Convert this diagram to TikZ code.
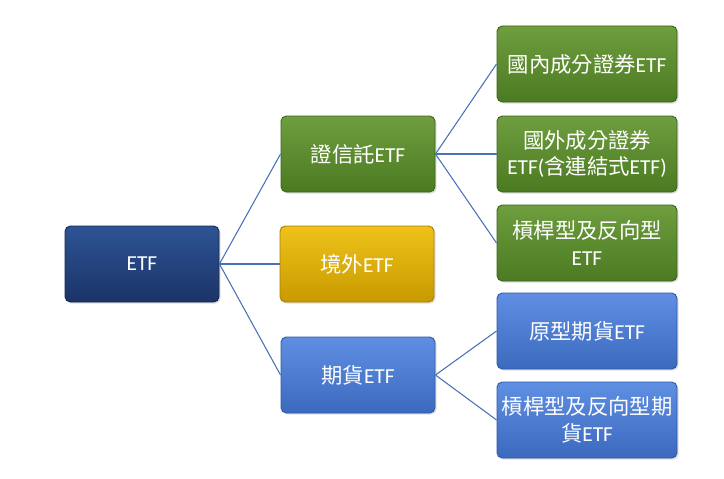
\documentclass[tikz,border=0pt]{standalone}
\usepackage{fontspec}
\setmainfont{Carlito}
\newfontfamily\cjk{Noto Sans CJK TC}
\usetikzlibrary{shadows}
\definecolor{navytop}{HTML}{2E5394}
\definecolor{navybot}{HTML}{1B3468}
\definecolor{navyedge}{HTML}{142A55}
\definecolor{grntop}{HTML}{6E9E3E}
\definecolor{grnbot}{HTML}{4B7A22}
\definecolor{grnedge}{HTML}{3E661B}
\definecolor{goldtop}{HTML}{EEC21A}
\definecolor{goldbot}{HTML}{C99A00}
\definecolor{goldedge}{HTML}{A88000}
\definecolor{blutop}{HTML}{5F8FE2}
\definecolor{blubot}{HTML}{3B69BE}
\definecolor{bluedge}{HTML}{2F5AA8}
\definecolor{linkc}{HTML}{4A72B8}
\tikzset{
  box/.style={rounded corners=4pt, minimum height=57pt, align=center, inner xsep=1pt,
    text=white, font=\fontsize{16}{20}\selectfont, line width=0.7pt,
    drop shadow={shadow xshift=1.2pt, shadow yshift=-1.2pt, opacity=0.25}},
  navybox/.style={box, minimum width=115.5pt, top color=navytop, bottom color=navybot, draw=navyedge},
  grnbox/.style={box, minimum width=135pt, top color=grntop, bottom color=grnbot, draw=grnedge},
  grnmid/.style={box, minimum width=115.5pt, top color=grntop, bottom color=grnbot, draw=grnedge},
  goldbox/.style={box, minimum width=115.5pt, top color=goldtop, bottom color=goldbot, draw=goldedge},
  blubox/.style={box, minimum width=135pt, top color=blutop, bottom color=blubot, draw=bluedge},
  blumid/.style={box, minimum width=115.5pt, top color=blutop, bottom color=blubot, draw=bluedge},
  link/.style={draw=linkc, line width=0.8pt}
}
\begin{document}
\begin{tikzpicture}[x=0.75pt, y=-0.75pt]
\useasboundingbox (0,0) rectangle (724,478);
\fill[white] (0,0) rectangle (724,478);
\node[navybox] (etf) at (142,264) {ETF};
\node[grnmid] (sec) at (358,154) {{\cjk 證信託}ETF};
\node[goldbox] (abr) at (357,264) {{\cjk 境外}ETF};
\node[blumid] (fut) at (358,375) {{\cjk 期貨}ETF};
\node[grnbox] (dom) at (587,64) {{\cjk 國內成分證券}ETF};
\node[grnbox] (frn) at (587,154) {{\cjk 國外成分證券}\\ETF({\cjk 含連結式}ETF)};
\node[grnbox] (lev) at (587,243) {{\cjk 槓桿型及反向型}\\ETF};
\node[blubox] (raw) at (587,331) {{\cjk 原型期貨}ETF};
\node[blubox] (levf) at (587,420) {{\cjk 槓桿型及反向型期}\\{\cjk 貨}ETF};
\draw[link] (etf.east) -- (sec.west);
\draw[link] (etf.east) -- (abr.west);
\draw[link] (etf.east) -- (fut.west);
\draw[link] (sec.east) -- (dom.west);
\draw[link] (sec.east) -- (frn.west);
\draw[link] (sec.east) -- (lev.west);
\draw[link] (fut.east) -- (raw.west);
\draw[link] (fut.east) -- (levf.west);
\end{tikzpicture}
\end{document}
